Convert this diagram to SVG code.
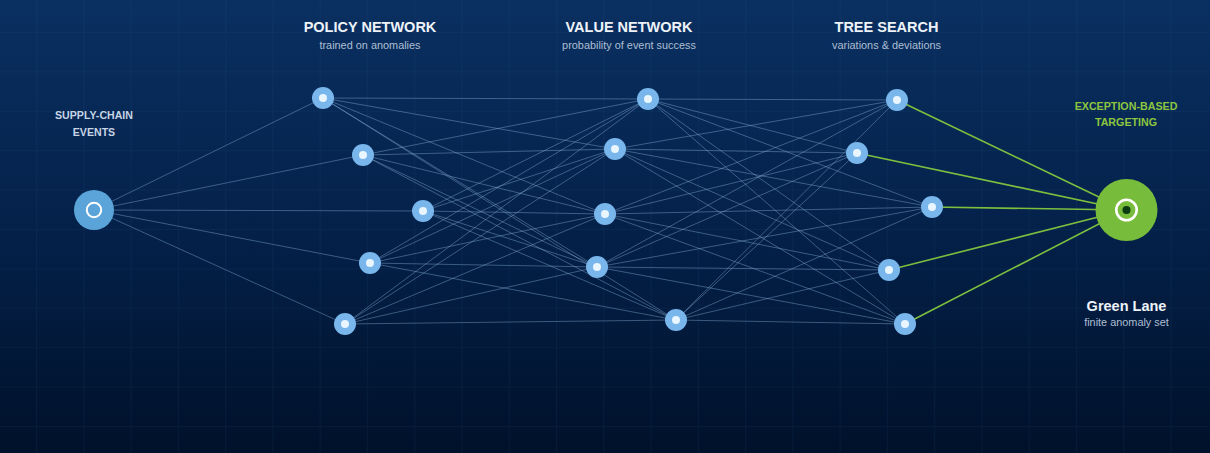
<svg xmlns="http://www.w3.org/2000/svg" width="1210" height="453" viewBox="0 0 1210 453">
<defs>
<linearGradient id="bg" x1="0" y1="0" x2="0" y2="1">
<stop offset="0" stop-color="#0a3061"/>
<stop offset="0.5" stop-color="#04214a"/>
<stop offset="1" stop-color="#00112a"/>
</linearGradient>
<pattern id="grid" x="36" y="32" width="47.27" height="39.4" patternUnits="userSpaceOnUse">
<path d="M0.5 0 V39.4 M0 0.5 H47.27" fill="none" stroke="#2a5a8c" stroke-width="1" stroke-opacity="0.12"/>
</pattern>
</defs>
<style>
.e{stroke:#8fb6de;stroke-opacity:0.45;stroke-width:0.9;fill:none}
.g{stroke:#7cbf3f;stroke-width:1.6;fill:none}
.n{fill:#78b6ec}
.d{fill:#e9f5ff}
.t{font-family:"Liberation Sans",Arial,sans-serif;font-weight:bold;font-size:14.5px;fill:#eef3f9;text-anchor:middle}
.s{font-family:"Liberation Sans",Arial,sans-serif;font-size:10.9px;fill:#aebfd3;text-anchor:middle}
.l{font-family:"Liberation Sans",Arial,sans-serif;font-weight:bold;font-size:10.6px;fill:#c6d4e4;text-anchor:middle}
.lg{font-family:"Liberation Sans",Arial,sans-serif;font-weight:bold;font-size:10.7px;fill:#8cc63f;text-anchor:middle}
</style>
<rect width="1210" height="453" fill="url(#bg)"/>
<rect width="1210" height="453" fill="url(#grid)"/>

<g id="connectors">
<!-- source to policy -->
<path class="e" d="M94 210 L323 98 M94 210 L363 155 M94 210 L423 211 M94 210 L370 263 M94 210 L345 324"/>
<!-- policy to value -->
<path class="e" d="M323 98 L648 99 M323 98 L615 149 M323 98 L605 214 M323 98 L597 267 M323 98 L676 320"/>
<path class="e" d="M363 155 L648 99 M363 155 L615 149 M363 155 L605 214 M363 155 L597 267 M363 155 L676 320"/>
<path class="e" d="M423 211 L648 99 M423 211 L615 149 M423 211 L605 214 M423 211 L597 267 M423 211 L676 320"/>
<path class="e" d="M370 263 L648 99 M370 263 L615 149 M370 263 L605 214 M370 263 L597 267 M370 263 L676 320"/>
<path class="e" d="M345 324 L648 99 M345 324 L615 149 M345 324 L605 214 M345 324 L597 267 M345 324 L676 320"/>
<!-- value to tree -->
<path class="e" d="M648 99 L897 100 M648 99 L857 153 M648 99 L932 207 M648 99 L889 270 M648 99 L905 324"/>
<path class="e" d="M615 149 L897 100 M615 149 L857 153 M615 149 L932 207 M615 149 L889 270 M615 149 L905 324"/>
<path class="e" d="M605 214 L897 100 M605 214 L857 153 M605 214 L932 207 M605 214 L889 270 M605 214 L905 324"/>
<path class="e" d="M597 267 L897 100 M597 267 L857 153 M597 267 L932 207 M597 267 L889 270 M597 267 L905 324"/>
<path class="e" d="M676 320 L897 100 M676 320 L857 153 M676 320 L932 207 M676 320 L889 270 M676 320 L905 324"/>
<!-- tree to target -->
<path class="g" d="M897 100 L1126 210 M857 153 L1126 210 M932 207 L1126 210 M889 270 L1126 210 M905 324 L1126 210"/>
</g>

<g id="source">
<circle cx="94" cy="210" r="20" fill="#5ba4d9"/>
<circle cx="94" cy="210" r="7.2" fill="none" stroke="#ffffff" stroke-width="2"/>
<text class="l" x="94" y="119">SUPPLY-CHAIN</text>
<text class="l" x="94" y="135.5">EVENTS</text>
</g>

<g id="policy-header">
<text class="t" x="370" y="32">POLICY NETWORK</text>
<text class="s" x="370" y="49">trained on anomalies</text>
</g>
<g id="value-header">
<text class="t" x="629" y="32">VALUE NETWORK</text>
<text class="s" x="629" y="49">probability of event success</text>
</g>
<g id="tree-header">
<text class="t" x="886.5" y="32">TREE SEARCH</text>
<text class="s" x="886.5" y="49">variations &amp; deviations</text>
</g>

<g id="p1"><circle class="n" cx="323" cy="98" r="11"/><circle class="d" cx="323" cy="98" r="4"/></g>
<g id="p2"><circle class="n" cx="363" cy="155" r="11"/><circle class="d" cx="363" cy="155" r="4"/></g>
<g id="p3"><circle class="n" cx="423" cy="211" r="11"/><circle class="d" cx="423" cy="211" r="4"/></g>
<g id="p4"><circle class="n" cx="370" cy="263" r="11"/><circle class="d" cx="370" cy="263" r="4"/></g>
<g id="p5"><circle class="n" cx="345" cy="324" r="11"/><circle class="d" cx="345" cy="324" r="4"/></g>

<g id="v1"><circle class="n" cx="648" cy="99" r="11"/><circle class="d" cx="648" cy="99" r="4"/></g>
<g id="v2"><circle class="n" cx="615" cy="149" r="11"/><circle class="d" cx="615" cy="149" r="4"/></g>
<g id="v3"><circle class="n" cx="605" cy="214" r="11"/><circle class="d" cx="605" cy="214" r="4"/></g>
<g id="v4"><circle class="n" cx="597" cy="267" r="11"/><circle class="d" cx="597" cy="267" r="4"/></g>
<g id="v5"><circle class="n" cx="676" cy="320" r="11"/><circle class="d" cx="676" cy="320" r="4"/></g>

<g id="t1"><circle class="n" cx="897" cy="100" r="11"/><circle class="d" cx="897" cy="100" r="4"/></g>
<g id="t2"><circle class="n" cx="857" cy="153" r="11"/><circle class="d" cx="857" cy="153" r="4"/></g>
<g id="t3"><circle class="n" cx="932" cy="207" r="11"/><circle class="d" cx="932" cy="207" r="4"/></g>
<g id="t4"><circle class="n" cx="889" cy="270" r="11"/><circle class="d" cx="889" cy="270" r="4"/></g>
<g id="t5"><circle class="n" cx="905" cy="324" r="11"/><circle class="d" cx="905" cy="324" r="4"/></g>

<g id="target">
<circle cx="1126.5" cy="210" r="31" fill="#77bc3b"/>
<circle cx="1126.5" cy="210" r="10.2" fill="none" stroke="#ffffff" stroke-width="2.6"/>
<circle cx="1126.5" cy="210" r="4" fill="#0c3a12"/>
<text class="lg" x="1126" y="109.5">EXCEPTION-BASED</text>
<text class="lg" x="1126" y="126">TARGETING</text>
<text class="t" x="1126.5" y="310.5" fill="#ffffff">Green Lane</text>
<text class="s" x="1126.5" y="326">finite anomaly set</text>
</g>
</svg>
